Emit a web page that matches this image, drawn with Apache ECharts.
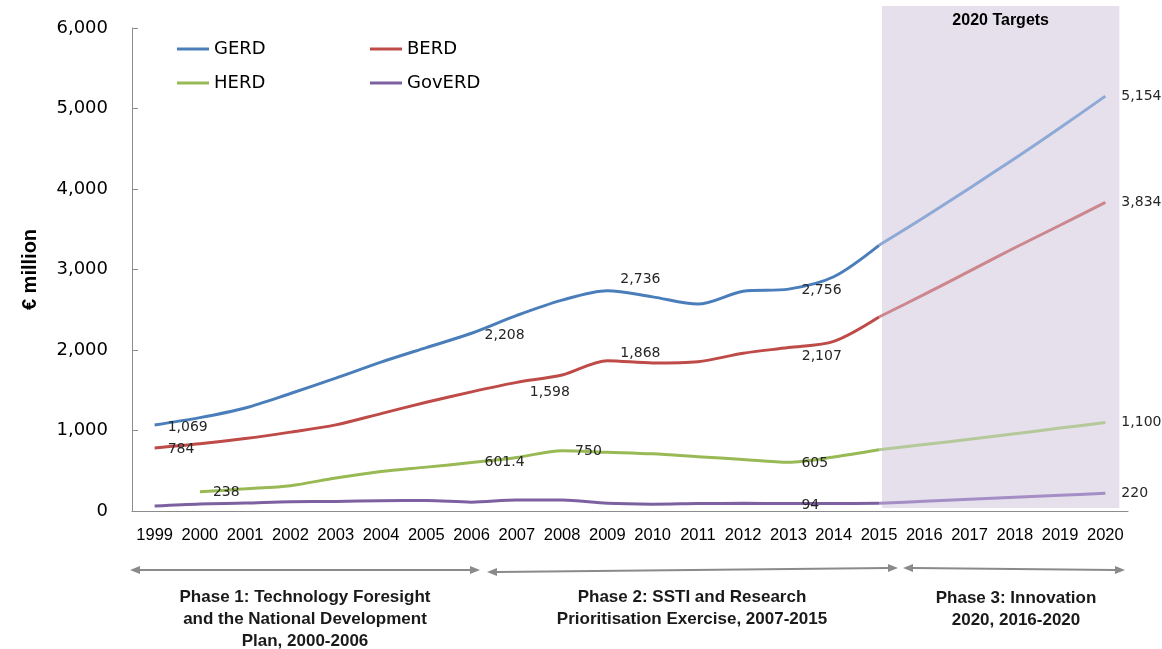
<!DOCTYPE html>
<html>
<head>
<meta charset="utf-8">
<script src="https://cdn.jsdelivr.net/npm/echarts@6/dist/echarts.min.js"></script>
<style>
  html, body { margin: 0; background: #fff; }
  #chart { width: 1162px; height: 649px; }
</style>
</head>
<body>
<div id="chart"></div>
<script>
  // years on the x axis
  var years = ['1999', '2000', '2001', '2002', '2003', '2004', '2005', '2006', '2007', '2008', '2009',
               '2010', '2011', '2012', '2013', '2014', '2015', '2016', '2017', '2018', '2019', '2020'];

  // actuals 1999-2015
  var gerd   = [1069, 1160, 1280, 1460, 1650, 1850, 2030, 2208, 2430, 2620, 2736, 2660, 2570, 2730, 2756, 2910, 3300];
  var berd   = [784, 835, 900, 980, 1070, 1210, 1350, 1480, 1598, 1690, 1868, 1840, 1855, 1960, 2030, 2107, 2410];
  var herd   = ['-', 238, 275, 315, 410, 490, 545, 601.4, 665, 750, 730, 710, 675, 640, 605, 670, 760];
  var goverd = [62, 88, 98, 116, 118, 128, 130, 110, 137, 137, 95, 85, 92, 95, 94, 94, 95];

  // 2020 targets, 2015-2020
  var gerdTarget   = [3300, 3650, 4010, 4380, 4760, 5154];
  var berdTarget   = [2410, 2690, 2980, 3270, 3550, 3834];
  var herdTarget   = [760, 825, 890, 960, 1030, 1100];
  var goverdTarget = [95, 120, 145, 170, 195, 220];

  var yTicks = [0, 1000, 2000, 3000, 4000, 5000, 6000];

  function fmt(v) {
    var s = String(v).split('.');
    s[0] = s[0].replace(/\B(?=(\d{3})+(?!\d))/g, ',');
    return s.join('.');
  }

  // put the target values at the end of the year axis
  function target(vals) {
    var out = [];
    for (var i = 0; i < years.length - vals.length; i++) out.push('-');
    return out.concat(vals);
  }

  // label spec: index -> [distance, dx, dy]
  function withLabels(vals, spec) {
    return vals.map(function (v, i) {
      var s = spec[i];
      if (!s) return v;
      return {
        value: v,
        label: { show: true, position: 'right', distance: s[0], offset: [s[1], s[2]] }
      };
    });
  }

  var labelStyle = {
    show: false,
    fontFamily: 'DejaVu Sans',
    fontSize: 14,
    color: '#262626',
    formatter: function (p) { return fmt(p.value); }
  };

  function line(name, data, color, z) {
    return {
      name: name, type: 'line', data: data, smooth: 0.3,
      symbol: 'circle', symbolSize: 0, showSymbol: true, z: z || 3,
      connectNulls: false,
      lineStyle: { color: color, width: 3 },
      itemStyle: { color: color },
      label: labelStyle
    };
  }

  var chart = echarts.init(document.getElementById('chart'));

  chart.setOption({
    animation: false,
    grid: { left: 132, right: 34, top: 28, bottom: 138 },
    legend: [
      {
        data: ['GERD', 'HERD'], orient: 'vertical', left: 172, top: 34,
        icon: 'rect', itemWidth: 32, itemHeight: 3, itemGap: 14,
        textStyle: { fontFamily: 'DejaVu Sans', fontSize: 18, color: '#000', lineHeight: 20 }
      },
      {
        data: ['BERD', 'GovERD'], orient: 'vertical', left: 365, top: 34,
        icon: 'rect', itemWidth: 32, itemHeight: 3, itemGap: 14,
        textStyle: { fontFamily: 'DejaVu Sans', fontSize: 18, color: '#000', lineHeight: 20 }
      }
    ],
    xAxis: {
      type: 'category',
      data: years,
      boundaryGap: true,
      axisLine: { lineStyle: { color: '#8c8c8c', width: 1 } },
      axisTick: { inside: true, length: 6, lineStyle: { color: '#8c8c8c' } },
      axisLabel: { interval: 0, margin: 16, fontFamily: 'Liberation Sans', fontSize: 16.5, color: '#000' }
    },
    yAxis: {
      type: 'value',
      min: yTicks[0], max: yTicks[yTicks.length - 1], interval: 1000,
      name: '€ million', nameLocation: 'middle', nameGap: 92,
      nameTextStyle: { fontFamily: 'Liberation Sans', fontWeight: 'bold', fontSize: 20, color: '#000' },
      axisLine: { show: true, lineStyle: { color: '#8c8c8c', width: 1 } },
      axisTick: { show: true, inside: true, length: 6, lineStyle: { color: '#8c8c8c' } },
      splitLine: { show: false },
      axisLabel: { margin: 24, fontFamily: 'DejaVu Sans', fontSize: 18, color: '#000', formatter: fmt }
    },
    series: [
      line('GERD', withLabels(gerd, { 0: [13, 0, 2], 7: [13, 0, 2], 10: [13, 0, -11], 14: [13, 0, 1] }), '#4a7ebb'),
      line('BERD', withLabels(berd, { 0: [13, 0, 1], 8: [13, 0, 10], 10: [13, 0, -7], 15: [13, -45, 15] }), '#be4b48'),
      line('HERD', withLabels(herd, { 1: [13, 0, 1], 7: [13, 0, 0], 9: [13, 0, 1], 14: [13, 0, 1] }), '#98b954'),
      line('GovERD', withLabels(goverd, { 14: [13, 0, 2] }), '#7d60a0'),
      line('GERD target', withLabels(target(gerdTarget), { 21: [16, 0, 0] }), '#8ea9d5', 2),
      line('BERD target', withLabels(target(berdTarget), { 21: [16, 0, 0] }), '#cc878c', 2),
      line('HERD target', withLabels(target(herdTarget), { 21: [16, 0, 0] }), '#b5c89a', 2),
      line('GovERD target', withLabels(target(goverdTarget), { 21: [16, 0, 0] }), '#a48ec5', 2)
    ]
  });

  // shaded 2020 targets band, placed from the axes
  var xa = chart.convertToPixel({ xAxisIndex: 0 }, '2015') + 3;
  var xb = chart.convertToPixel({ xAxisIndex: 0 }, '2020') + 14;
  var yTop = chart.convertToPixel({ yAxisIndex: 0 }, 6000) - 22;
  var yBot = chart.convertToPixel({ yAxisIndex: 0 }, 0) - 3;

  function arrow(x1, y1, x2, y2) {
    var dx = x2 - x1, dy = y2 - y1, len = Math.sqrt(dx * dx + dy * dy);
    var ux = dx / len, uy = dy / len, nx = -uy, ny = ux, L = 10, W = 4;
    var c = '#8a8a8a';
    return [
      { type: 'line', shape: { x1: x1 + ux * L, y1: y1 + uy * L, x2: x2 - ux * L, y2: y2 - uy * L },
        style: { stroke: c, lineWidth: 2 } },
      { type: 'polygon', shape: { points: [[x1, y1], [x1 + ux * L + nx * W, y1 + uy * L + ny * W], [x1 + ux * L - nx * W, y1 + uy * L - ny * W]] },
        style: { fill: c } },
      { type: 'polygon', shape: { points: [[x2, y2], [x2 - ux * L + nx * W, y2 - uy * L + ny * W], [x2 - ux * L - nx * W, y2 - uy * L - ny * W]] },
        style: { fill: c } }
    ];
  }

  var phaseFont = 'bold 17px "Liberation Sans"';
  var elements = [
    { type: 'rect', z: 0, shape: { x: xa, y: yTop, width: xb - xa, height: yBot - yTop },
      style: { fill: '#e5e0ec' }, silent: true },
    { type: 'text', z: 5, style: { text: '2020 Targets', x: (xa + xb) / 2, y: yTop + 15, align: 'center', verticalAlign: 'middle',
      font: 'bold 16px "Liberation Sans"', fill: '#000' } },
    { type: 'text', z: 5, style: { text: 'Phase 1: Technology Foresight\nand the National Development\nPlan, 2000-2006',
      x: 305, y: 586, align: 'center', verticalAlign: 'top', font: phaseFont, lineHeight: 22, fill: '#1a1a1a' } },
    { type: 'text', z: 5, style: { text: 'Phase 2: SSTI and Research\nPrioritisation Exercise, 2007-2015',
      x: 692, y: 586, align: 'center', verticalAlign: 'top', font: phaseFont, lineHeight: 22, fill: '#1a1a1a' } },
    { type: 'text', z: 5, style: { text: 'Phase 3: Innovation\n2020, 2016-2020',
      x: 1016, y: 587, align: 'center', verticalAlign: 'top', font: phaseFont, lineHeight: 22, fill: '#1a1a1a' } }
  ];
  elements = elements.concat(arrow(130, 570, 480, 570), arrow(487, 572, 898, 568), arrow(903, 568, 1125, 570));

  chart.setOption({ graphic: { elements: elements } });
</script>
</body>
</html>
